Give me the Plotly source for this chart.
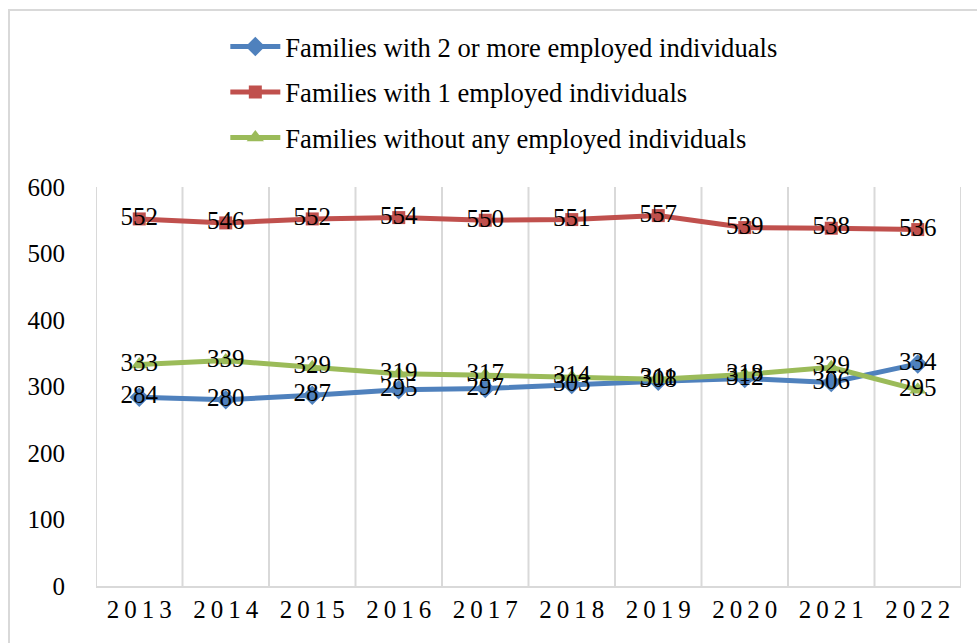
import plotly.graph_objects as go

# Family counts by number of employed members, 2013-2022
years = ["2013", "2014", "2015", "2016", "2017", "2018", "2019", "2020", "2021", "2022"]
year_labels = ["2\u20090\u20091\u20093", "2\u20090\u20091\u20094", "2\u20090\u20091\u20095", "2\u20090\u20091\u20096",
               "2\u20090\u20091\u20097", "2\u20090\u20091\u20098", "2\u20090\u20091\u20099", "2\u20090\u20092\u20090",
               "2\u20090\u20092\u20091", "2\u20090\u20092\u20092"]

two_or_more = [284, 280, 287, 295, 297, 303, 308, 312, 306, 334]
one_employed = [552, 546, 552, 554, 550, 551, 557, 539, 538, 536]
none_employed = [333, 339, 329, 319, 317, 314, 311, 318, 329, 295]

series = [
    ("Families with 2 or more employed individuals", two_or_more, "#4F81BD", "diamond", 15),
    ("Families with 1 employed individuals", one_employed, "#C0504D", "square", 13),
    ("Families without any employed individuals", none_employed, "#9BBB59", "triangle-up", 15),
]

FONT = "Liberation Serif"

fig = go.Figure()

for i, (name, vals, color, symbol, msize) in enumerate(series):
    fig.add_trace(go.Scatter(
        x=years, y=vals, name=name, mode="lines+markers",
        line=dict(color=color, width=5),
        marker=dict(symbol=symbol, size=msize, color=color),
        legendgroup=f"g{i}",
    ))

# value labels drawn on top of every line
for name, vals, color, symbol, msize in series:
    fig.add_trace(go.Scatter(
        x=years, y=vals, mode="text", text=[str(v) for v in vals],
        textposition="middle center",
        textfont=dict(family=FONT, size=25, color="black"),
        showlegend=False, hoverinfo="skip",
    ))

fig.add_shape(type="rect", xref="paper", yref="paper",
              x0=-0.1006, x1=1.022, y0=-0.16, y1=1.4436,
              line=dict(color="#d9d9d9", width=2), fillcolor="rgba(0,0,0,0)",
              layer="below")

fig.update_layout(
    width=977, height=643,
    margin=dict(l=96, r=16, t=187, b=57),
    paper_bgcolor="white", plot_bgcolor="white",
    font=dict(family=FONT, size=25, color="black"),
    showlegend=True,
    legend=dict(x=0.1495, y=1.412, xanchor="left", yanchor="top",
                orientation="v", tracegroupgap=8,
                font=dict(family=FONT, size=26.6, color="black"),
                bgcolor="rgba(0,0,0,0)", itemwidth=50),
    xaxis=dict(
        type="category", tickmode="array", tickvals=years, ticktext=year_labels,
        range=[-0.5, 9.5], showgrid=False, zeroline=False,
        showline=True, linecolor="#d9d9d9", linewidth=2,
        ticks="", tickfont=dict(family=FONT, size=25),
    ),
    yaxis=dict(
        range=[0, 600], dtick=100, showgrid=False, zeroline=False,
        showline=False, ticks="", ticklabelstandoff=30,
        tickfont=dict(family=FONT, size=25),
    ),
)

# vertical separators between categories
for k in range(11):
    fig.add_shape(type="line", xref="x", yref="y",
                  x0=k - 0.5, x1=k - 0.5, y0=0, y1=600,
                  line=dict(color="#d9d9d9", width=2), layer="below")

fig.write_html("out.html")
